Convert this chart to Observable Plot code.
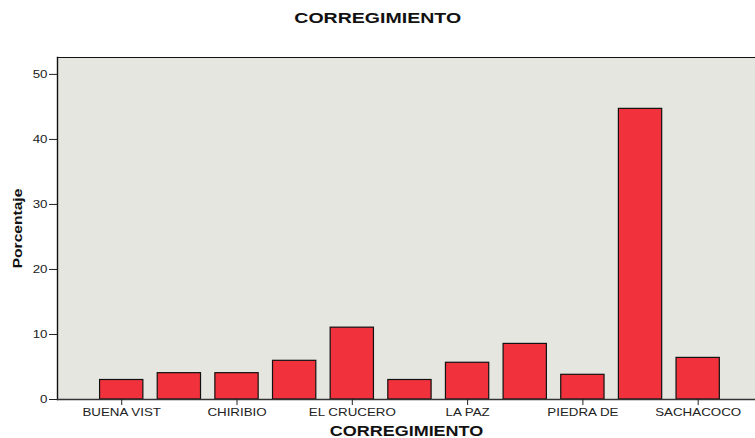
<!DOCTYPE html>
<html>
<head>
<meta charset="utf-8">
<script src="https://cdn.jsdelivr.net/npm/d3@7"></script>
<script src="https://cdn.jsdelivr.net/npm/@observablehq/plot@0.6"></script>
<style>
  body { margin: 0; background: #ffffff; font-family: "Liberation Sans", Arial, sans-serif; }
  #title { width: 755px; height: 35px; line-height: 35px; text-align: center; font-weight: bold;
           font-size: 15.4px; color: #111; }
  #title span { display: inline-block; transform: scaleX(1.27); transform-origin: 50% 50%; }
  #chart svg { display: block; }
</style>
</head>
<body>
<div id="title"><span></span></div>
<div id="chart"></div>
<script>
// Categories (only every other label is printed on the axis in the original)
const categories = ["BUENA VIST", "cat-2", "CHIRIBIO", "cat-4", "EL CRUCERO", "cat-6",
                    "LA PAZ", "cat-8", "PIEDRA DE", "cat-10", "SACHACOCO"];
const labeledCategories = ["BUENA VIST", "CHIRIBIO", "EL CRUCERO", "LA PAZ", "PIEDRA DE", "SACHACOCO"];
// Percentages
const percentages = [3.0, 4.05, 4.05, 5.95, 11.05, 3.0, 5.65, 8.55, 3.8, 44.7, 6.4];
const yTicks = [0, 10, 20, 30, 40, 50];
const titleText = "CORREGIMIENTO";
const yLabel = "Porcentaje";
const xLabel = "CORREGIMIENTO";

const data = categories.map((c, i) => ({cat: c, pct: percentages[i]}));

const chart = Plot.plot({
  width: 755,
  height: 403,
  marginLeft: 57,
  marginRight: 0,
  marginTop: 22,
  marginBottom: 39,
  style: {fontFamily: "'Liberation Sans', Arial, sans-serif", fontSize: "10.5px", color: "#222", background: "transparent", overflow: "visible"},
  x: {domain: categories, range: [92.4, 726.5], paddingInner: 0.249, paddingOuter: 0.1245, round: false, axis: null},
  y: {domain: [0, 52.6], axis: null},
  marks: [
    Plot.frame({fill: "#e6e6e1", stroke: null}),
    Plot.barY(data, {x: "cat", y: "pct", fill: "#f1323c", stroke: "#111", strokeWidth: 1.2}),
    Plot.frame({anchor: "top", stroke: "#111", strokeWidth: 1.2}),
    Plot.frame({anchor: "left", stroke: "#111", strokeWidth: 1.4}),
    Plot.ruleY([0], {stroke: "#333", strokeWidth: 1.4}),
    Plot.axisY({ticks: yTicks, tickSize: 8, tickPadding: 2, label: null, stroke: "#222", fill: "#222", fontSize: 10.5}),
    Plot.axisX({ticks: labeledCategories, tickSize: 6, tickPadding: 3.5, label: null, stroke: "#222", fill: "#222", fontSize: 10.5}),
    Plot.text([yLabel], {text: d => d, frameAnchor: "left", textAnchor: "middle", lineAnchor: "middle", dx: -39.6, rotate: -90, fontWeight: "bold", fontSize: 13, fill: "#111"}),
    Plot.text([xLabel], {text: d => d, frameAnchor: "bottom", textAnchor: "middle", lineAnchor: "middle", dy: 31.4, fontWeight: "bold", fontSize: 15, fill: "#111"})
  ]
});

// Stretch text horizontally (along its own direction) like the original rendering.
// Texts are positioned by a translate transform, so the scale acts around each anchor.
d3.select(chart).selectAll("text").each(function() {
  const t = this.textContent;
  const s = (t === yLabel || t === xLabel) ? 1.2 : 1.27;
  const tr = this.getAttribute("transform") || "";
  this.setAttribute("transform", `${tr} scale(${s},1)`);
});

document.getElementById("chart").appendChild(chart);
document.querySelector("#title span").textContent = titleText;
</script>
</body>
</html>
